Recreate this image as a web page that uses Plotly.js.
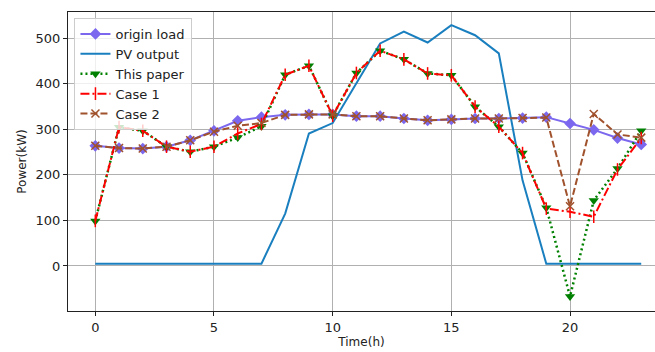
<!DOCTYPE html>
<html>
<head>
<meta charset="utf-8">
<script src="https://cdn.plot.ly/plotly-3.0.1.min.js"></script>
<style>html,body{margin:0;padding:0;background:#fff;}#chart{width:655px;height:352px;}</style>
</head>
<body>
<div id="chart"></div>
<script>
const hours = [0,1,2,3,4,5,6,7,8,9,10,11,12,13,14,15,16,17,18,19,20,21,22,23];
const originLoad = [264,259,258,262,276,297,319,327,332,333,333,329,329,324,320,322,324,324,325,327,313,299,281,267];
const pvOutput = [5,5,5,5,5,5,5,5,115,291,314,400,489,515,491,529,507,467,188,5,5,5,5,5];
const thisPaper = [99,305,297,262,251,262,282,307,420,440,330,424,473,454,423,419,350,306,248,128,-67,144,214,297];
const case1 = [99,305,297,262,251,262,291,312,420,440,330,424,473,454,423,419,350,306,248,126,119,108,212,281];
const case2 = [264,259,258,262,276,295,308,314,332,333,333,329,329,324,320,322,324,324,325,326,131,334,289,282];
const seriesNames = ['origin load','PV output','This paper','Case 1','Case 2'];

const traces = [
  {x: hours, y: originLoad, name: seriesNames[0], mode: 'lines+markers',
   line: {color: '#7B68EE', width: 2}, marker: {symbol: 'diamond', size: 9, color: '#7B68EE'}},
  {x: hours, y: pvOutput, name: seriesNames[1], mode: 'lines',
   line: {color: '#1a7fbf', width: 2}},
  {x: hours, y: thisPaper, name: seriesNames[2], mode: 'lines+markers',
   line: {color: '#008000', width: 2.5, dash: '2px,3px'}, marker: {symbol: 'triangle-down', size: 9, color: '#008000'}},
  {x: hours, y: case1, name: seriesNames[3], mode: 'lines+markers',
   line: {color: '#ff0000', width: 2, dash: '9px,3px,2px,3px'},
   marker: {symbol: 'line-ns-open', size: 9, color: '#ff0000', line: {color: '#ff0000', width: 1.5}}},
  {x: hours, y: case2, name: seriesNames[4], mode: 'lines+markers',
   line: {color: '#a0522d', width: 2, dash: '7px,3px'},
   marker: {symbol: 'x-thin-open', size: 8, color: '#a0522d', line: {color: '#a0522d', width: 1.5}}}
];

const layout = {
  width: 655, height: 352,
  margin: {l: 68, r: 0, t: 12, b: 41, pad: 0},
  paper_bgcolor: '#fff', plot_bgcolor: '#fff',
  font: {family: 'DejaVu Sans', size: 13, color: '#222'},
  showlegend: true,
  legend: {x: 0.011, y: 0.98, xanchor: 'left', yanchor: 'top',
           bgcolor: 'rgba(255,255,255,0.8)', bordercolor: '#cccccc', borderwidth: 1,
           font: {family: 'DejaVu Sans', size: 13, color: '#222'}, itemwidth: 30, tracegroupgap: 0},
  xaxis: {range: [-1.15, 23.58], tickvals: [0,5,10,15,20], ticktext: ['0','5','10','15','20'],
          showgrid: true, gridcolor: '#b0b0b0', gridwidth: 1, zeroline: false,
          showline: true, linecolor: '#222', linewidth: 1, mirror: true,
          ticks: 'outside', ticklen: 4, tickcolor: '#222',
          title: {text: 'Time(h)', font: {size: 12}, standoff: 3}},
  yaxis: {range: [-99, 558], tickvals: [0,100,200,300,400,500],
          showgrid: true, gridcolor: '#b0b0b0', gridwidth: 1, zeroline: false,
          showline: true, linecolor: '#222', linewidth: 1,
          ticks: 'outside', ticklen: 4, tickcolor: '#222',
          title: {text: 'Power(kW)', font: {size: 12}, standoff: 6}}
};

Plotly.newPlot('chart', traces, layout, {displayModeBar: false, staticPlot: true});
</script>
</body>
</html>
